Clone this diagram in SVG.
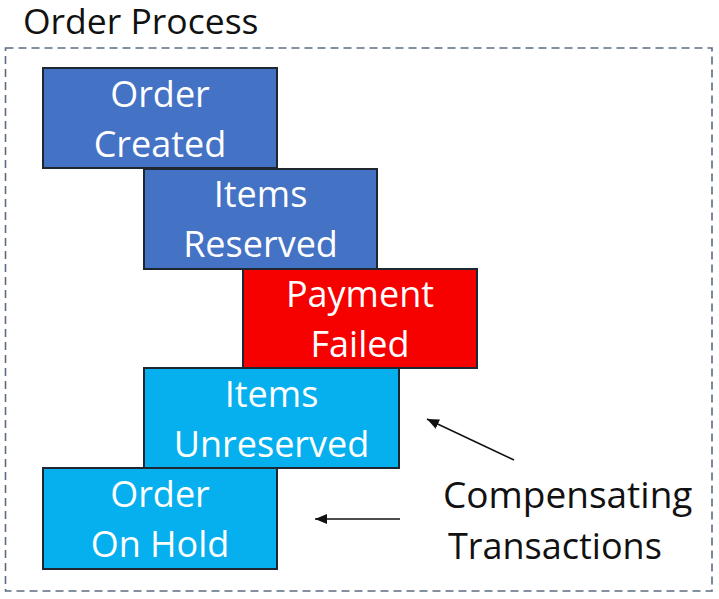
<svg xmlns="http://www.w3.org/2000/svg" width="719" height="599" viewBox="0 0 719 599">
<style>
text{font-family:"Open Sans","Noto Sans",sans-serif}
.box{stroke:#1e2630;stroke-width:2}
.lbl{fill:#ffffff;font-size:36px;text-anchor:middle}
.blk{fill:#111111}
.conn{stroke:#111111;stroke-width:1.6;fill:none}
</style>
<defs>
<marker id="ah" viewBox="0 0 12 10" refX="12" refY="5" markerWidth="12" markerHeight="10" markerUnits="userSpaceOnUse" orient="auto">
<path d="M0,0 L12,5 L0,10 Z" fill="#111111"/>
</marker>
</defs>
<rect width="719" height="599" fill="#ffffff"/>
<g id="frame">
<rect x="5.5" y="48" width="706.5" height="543" fill="none" stroke="#5c6b80" stroke-width="1.6" stroke-dasharray="8 5"/>
<text class="blk" x="23" y="34" font-size="35.5">Order Process</text>
</g>
<g id="order-created">
<rect class="box" x="43" y="68" width="234" height="100" fill="#4472c4"/>
<text class="lbl" x="160" y="107">Order</text>
<text class="lbl" x="160" y="157">Created</text>
</g>
<g id="items-reserved">
<rect class="box" x="144" y="169" width="233" height="100" fill="#4472c4"/>
<text class="lbl" x="260.5" y="207">Items</text>
<text class="lbl" x="260.5" y="257">Reserved</text>
</g>
<g id="payment-failed">
<rect class="box" x="243" y="269" width="234" height="99" fill="#f70000"/>
<text class="lbl" x="360" y="307">Payment</text>
<text class="lbl" x="360" y="357">Failed</text>
</g>
<g id="items-unreserved">
<rect class="box" x="144" y="368" width="255" height="100" fill="#06b0ee"/>
<text class="lbl" x="271.5" y="407">Items</text>
<text class="lbl" x="271.5" y="457">Unreserved</text>
</g>
<g id="order-on-hold">
<rect class="box" x="43" y="468" width="234" height="101" fill="#06b0ee"/>
<text class="lbl" x="160" y="507">Order</text>
<text class="lbl" x="160" y="557">On Hold</text>
</g>
<g id="compensating-label">
<text class="blk" x="443" y="508" font-size="37">Compensating</text>
<text class="blk" x="448" y="559" font-size="36">Transactions</text>
</g>
<g id="connectors">
<line class="conn" x1="514" y1="460" x2="427" y2="419" marker-end="url(#ah)"/>
<line class="conn" x1="400" y1="519" x2="315" y2="519" marker-end="url(#ah)"/>
</g>
</svg>
